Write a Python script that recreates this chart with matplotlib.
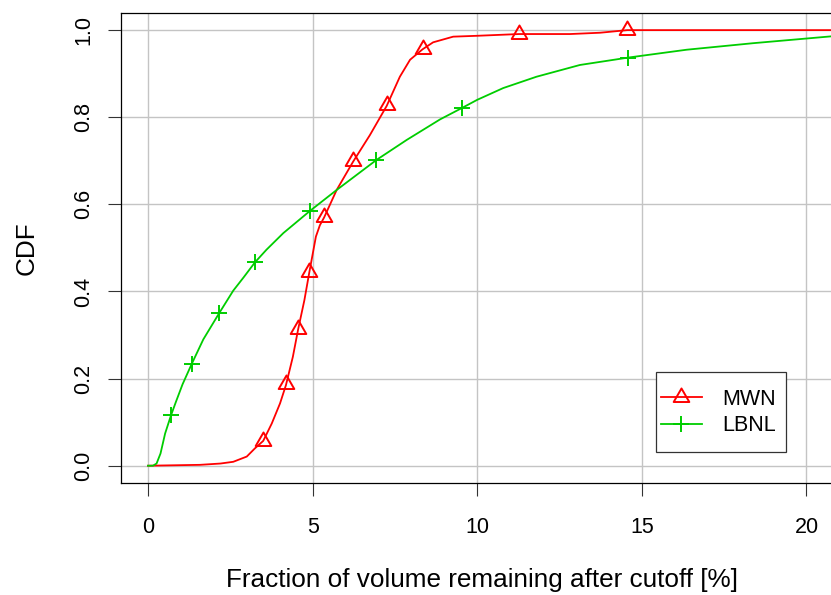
import matplotlib
matplotlib.use("Agg")
import matplotlib.pyplot as plt
from matplotlib.lines import Line2D
from matplotlib.path import Path
from matplotlib.patches import Rectangle

plt.rcParams['font.family'] = ['Liberation Sans', 'DejaVu Sans']

# MWN curve (red) and its marker points
mwn_x = [0, 1.58, 2.2, 2.59, 3.0, 3.25, 3.50, 3.76, 4.01, 4.19, 4.4, 4.56, 4.75, 4.90,
         5.10, 5.22, 5.35, 5.73, 6.23, 6.74, 7.25, 7.65, 7.96, 8.34, 8.66, 9.27, 10.0,
         11.27, 12.82, 13.73, 14.56, 15.35, 21.1]
mwn_y = [0, 0.002, 0.005, 0.009, 0.021, 0.040, 0.057, 0.097, 0.143, 0.185, 0.25, 0.313,
         0.38, 0.444, 0.526, 0.552, 0.570, 0.633, 0.698, 0.759, 0.826, 0.893, 0.932,
         0.956, 0.972, 0.985, 0.987, 0.991, 0.991, 0.994, 1.0, 1.0, 1.0]
mwn_mx = [3.50, 4.18, 4.56, 4.90, 5.35, 6.23, 7.25, 8.34, 11.27, 14.56]
mwn_my = [0.057, 0.187, 0.313, 0.444, 0.570, 0.700, 0.827, 0.957, 0.991, 1.0]

# LBNL curve (green) and its marker points
lbnl_x = [0, 0.15, 0.26, 0.38, 0.52, 0.70, 0.85, 1.05, 1.33, 1.68, 2.16, 2.59, 2.90,
          3.25, 3.60, 4.11, 4.92, 5.73, 6.94, 7.86, 8.87, 9.53, 10.0, 10.79, 11.80,
          13.12, 14.59, 16.36, 18.38, 21.1]
lbnl_y = [0, 0.0, 0.005, 0.028, 0.074, 0.116, 0.147, 0.187, 0.234, 0.290, 0.350, 0.402,
          0.432, 0.467, 0.496, 0.534, 0.585, 0.633, 0.702, 0.748, 0.795, 0.821, 0.840,
          0.867, 0.893, 0.920, 0.937, 0.955, 0.970, 0.988]
lbnl_mx = [0.70, 1.33, 2.16, 3.25, 4.92, 6.94, 9.53, 14.59]
lbnl_my = [0.116, 0.234, 0.350, 0.467, 0.585, 0.702, 0.821, 0.937]

xticks = [0, 5, 10, 15, 20]
yticks = [0.0, 0.2, 0.4, 0.6, 0.8, 1.0]

RED = '#FF0000'
GREEN = '#00CD00'
# closed equilateral triangle like R's pch=2
tri = Path([(0, 1), (-0.866, -0.5), (0.866, -0.5), (0, 1)],
           [Path.MOVETO, Path.LINETO, Path.LINETO, Path.CLOSEPOLY])

W, H = 831, 595
fig = plt.figure(figsize=(W / 100, H / 100), dpi=100)
left, right, top, bottom = 121.3, 842.0, 12.7, 482.7
ax = fig.add_axes([left / W, 1 - bottom / H, (right - left) / W, (bottom - top) / H])

ax.set_xlim(-0.811, 21.08)
ax.set_ylim(-0.039, 1.040)

for x in xticks:
    ax.axvline(x, color='#c4c4c4', lw=1.0, zorder=0)
for y in yticks:
    ax.axhline(y, color='#c4c4c4', lw=1.0, zorder=0)

ax.plot(mwn_x, mwn_y, color=RED, lw=1.3, zorder=3)
ax.plot(mwn_mx, mwn_my, ls='none', marker=tri, ms=13, mfc='none', mec=RED, mew=1.4, zorder=4)
ax.plot(lbnl_x, lbnl_y, color=GREEN, lw=1.3, zorder=3)
ax.plot(lbnl_mx, lbnl_my, ls='none', marker='+', ms=11.5, mec=GREEN, mew=1.4, zorder=4)

ax.set_xticks(xticks)
ax.set_xticklabels([str(t) for t in xticks])
ax.set_yticks(yticks)
ax.set_yticklabels([f"{t:.1f}" for t in yticks], rotation=90, va='center')
ax.tick_params(axis='both', length=9.4, width=0.8, color='#333333', labelsize=15.5)
ax.tick_params(axis='x', pad=15)
ax.tick_params(axis='y', pad=10)

for s in ax.spines.values():
    s.set_linewidth(0.9)
    s.set_color('black')

ax.set_xlabel('Fraction of volume remaining after cutoff [%]', fontsize=18.8, labelpad=22)
ax.set_ylabel('CDF', fontsize=18.8, labelpad=25)

# legend: white box drawn by hand, entries placed inside it
box = Rectangle((656 / W, 1 - 452 / H), 130 / W, 80 / H, transform=fig.transFigure,
                facecolor='white', edgecolor='#333333', lw=0.9, zorder=4.5, clip_on=False)
ax.add_patch(box)
handles = [
    Line2D([], [], color=RED, lw=1.3, marker=tri, ms=13, mfc='none', mec=RED, mew=1.4),
    Line2D([], [], color=GREEN, lw=1.3, marker='+', ms=11.5, mec=GREEN, mew=1.4),
]
leg = ax.legend(handles, ['MWN', 'LBNL'], loc='center left',
                bbox_to_anchor=(661 / W, 1 - 412.5 / H), bbox_transform=fig.transFigure,
                borderaxespad=0, borderpad=0, fontsize=15.5, handlelength=1.9,
                handletextpad=0.93, labelspacing=0.26, frameon=False)
leg.set_zorder(6)

fig.savefig('out.png', dpi=100)
